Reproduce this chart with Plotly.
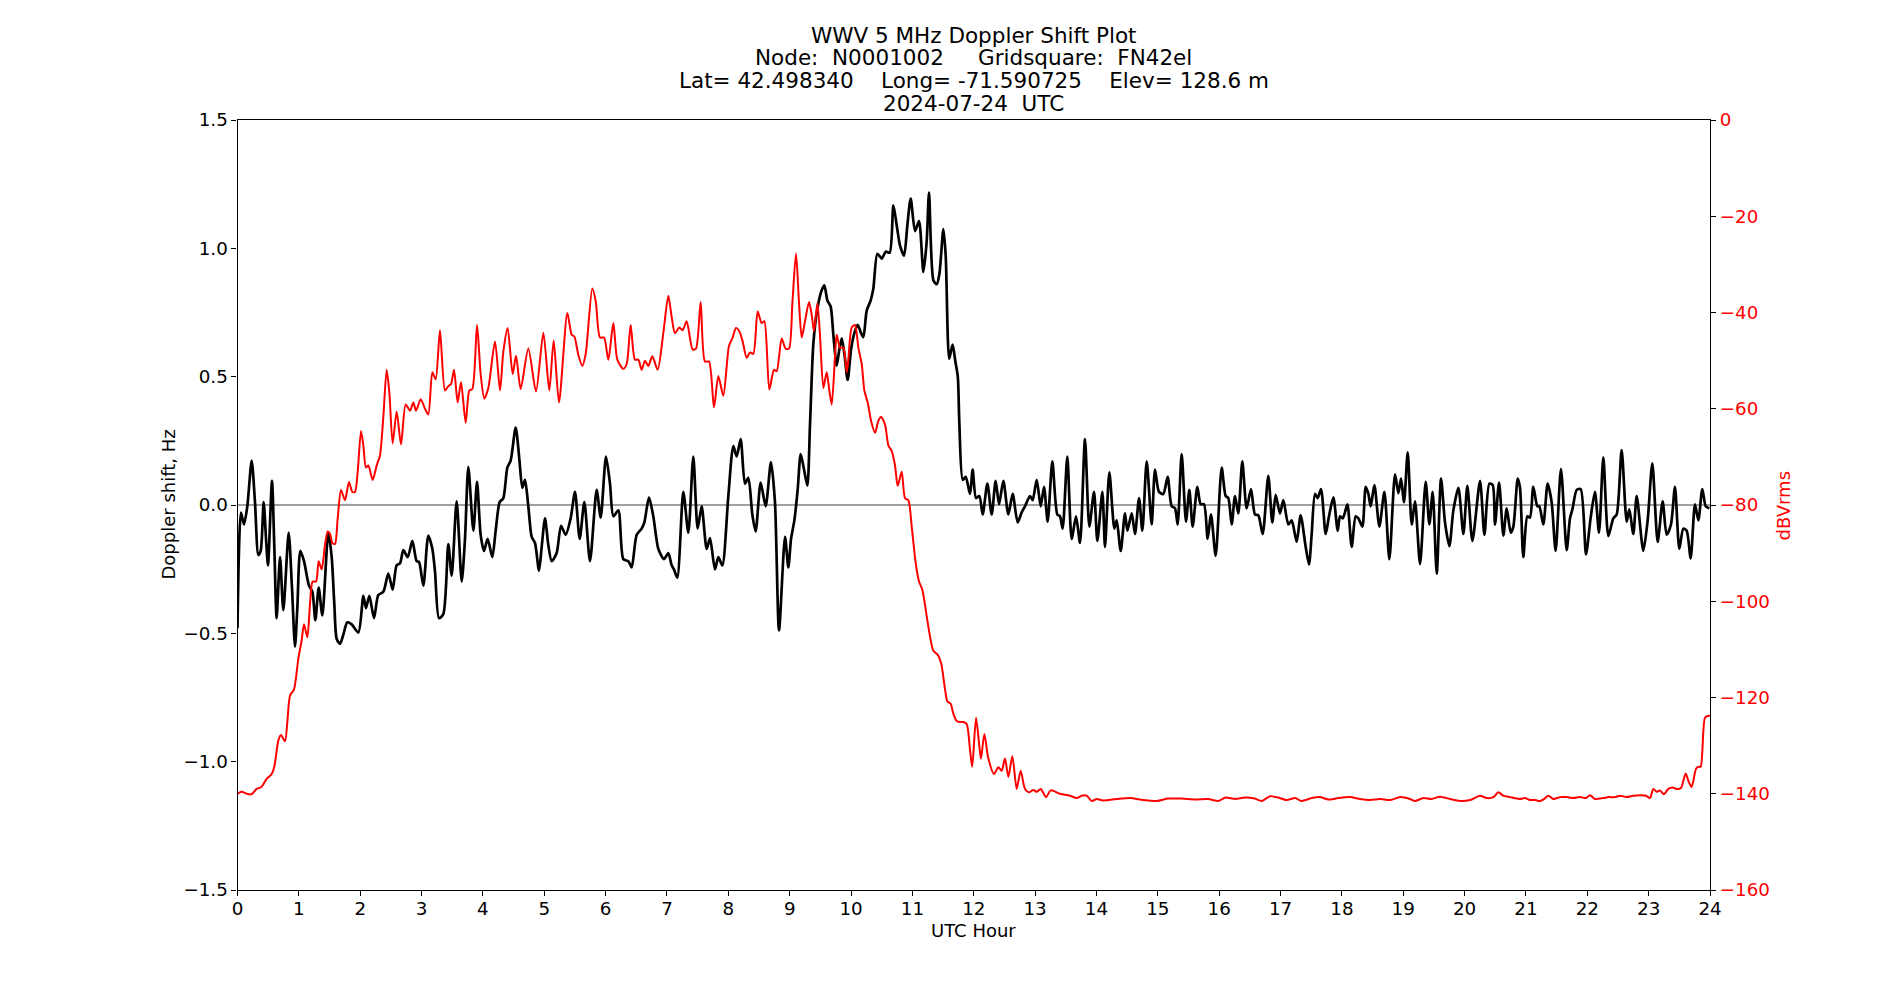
import plotly.graph_objects as go

# ---------------- data ----------------
doppler_hours = [
    0.00, 0.057, 0.106, 0.160, 0.231, 0.285, 0.340, 0.378, 0.426, 0.465, 0.497, 0.562, 0.600, 0.638, 0.693,
    0.747, 0.834, 0.888, 0.937, 0.975, 1.024, 1.084, 1.165, 1.220, 1.269, 1.323, 1.383, 1.480, 1.535, 1.578,
    1.616, 1.671, 1.725, 1.790, 1.861, 1.970, 2.051, 2.094, 2.149, 2.225, 2.295, 2.377, 2.458, 2.529, 2.594,
    2.649, 2.703, 2.774, 2.850, 2.920, 2.958, 3.029, 3.110, 3.176, 3.219, 3.284, 3.355, 3.436, 3.491, 3.572,
    3.654, 3.708, 3.762, 3.844, 3.904, 3.963, 4.018, 4.077, 4.153, 4.208, 4.273, 4.333, 4.398, 4.452, 4.534,
    4.594, 4.642, 4.686, 4.740, 4.795, 4.849, 4.914, 4.958, 5.012, 5.066, 5.121, 5.202, 5.273, 5.349, 5.430,
    5.501, 5.577, 5.653, 5.745, 5.854, 5.919, 6.006, 6.071, 6.126, 6.207, 6.288, 6.370, 6.424, 6.506, 6.587,
    6.631, 6.707, 6.777, 6.859, 6.951, 7.022, 7.076, 7.114, 7.168, 7.266, 7.348, 7.429, 7.500, 7.565, 7.647,
    7.701, 7.782, 7.837, 7.902, 8.000, 8.081, 8.136, 8.201, 8.271, 8.326, 8.391, 8.445, 8.527, 8.608, 8.695,
    8.760, 8.826, 8.924, 8.978, 9.022, 9.076, 9.130, 9.179, 9.234, 9.288, 9.331, 9.386, 9.451, 9.522, 9.565,
    9.614, 9.668, 9.712, 9.766, 9.804, 9.848, 9.891, 9.945, 10.000, 10.054, 10.108, 10.163, 10.201, 10.255,
    10.320, 10.364, 10.429, 10.500, 10.565, 10.630, 10.690, 10.744, 10.798, 10.864, 10.918, 10.972, 11.043,
    11.108, 11.179, 11.233, 11.271, 11.342, 11.396, 11.440, 11.505, 11.543, 11.600, 11.655, 11.700, 11.740,
    11.766, 11.820, 11.869, 11.939, 11.982, 12.037, 12.091, 12.145, 12.222, 12.292, 12.357, 12.412, 12.482,
    12.564, 12.634, 12.716, 12.781, 12.835, 12.917, 12.960, 13.026, 13.091, 13.145, 13.205, 13.281, 13.362,
    13.406, 13.449, 13.525, 13.596, 13.667, 13.732, 13.813, 13.884, 13.960, 14.015, 14.096, 14.139, 14.210,
    14.292, 14.330, 14.395, 14.465, 14.504, 14.574, 14.628, 14.694, 14.748, 14.819, 14.900, 14.954, 15.019,
    15.090, 15.160, 15.226, 15.280, 15.323, 15.389, 15.459, 15.514, 15.568, 15.644, 15.698, 15.753, 15.812,
    15.867, 15.943, 16.041, 16.106, 16.149, 16.204, 16.258, 16.312, 16.377, 16.448, 16.519, 16.584, 16.638,
    16.709, 16.801, 16.866, 16.921, 16.991, 17.046, 17.127, 17.182, 17.263, 17.328, 17.410, 17.464, 17.507,
    17.562, 17.605, 17.660, 17.736, 17.790, 17.861, 17.932, 17.970, 18.013, 18.041, 18.090, 18.160, 18.225,
    18.269, 18.334, 18.388, 18.432, 18.470, 18.530, 18.611, 18.693, 18.774, 18.866, 18.921, 18.964, 19.013,
    19.073, 19.138, 19.192, 19.274, 19.366, 19.426, 19.480, 19.546, 19.616, 19.681, 19.752, 19.817, 19.899,
    19.980, 20.045, 20.127, 20.252, 20.323, 20.404, 20.458, 20.496, 20.562, 20.632, 20.687, 20.752, 20.795,
    20.866, 20.903, 20.957, 21.023, 21.066, 21.120, 21.186, 21.218, 21.283, 21.354, 21.419, 21.484, 21.571,
    21.664, 21.718, 21.761, 21.827, 21.892, 21.979, 22.055, 22.125, 22.191, 22.261, 22.343, 22.424, 22.479,
    22.560, 22.642, 22.685, 22.750, 22.805, 22.913, 22.984, 23.060, 23.147, 23.228, 23.294, 23.364, 23.429,
    23.500, 23.565, 23.620, 23.685, 23.755, 23.810, 23.875, 23.930, 23.989,
]

doppler_hz = [
    -0.48, -0.03, -0.076, -0.005, 0.173, 0.011, -0.195, -0.179, 0.011, -0.132, -0.235, 0.094, -0.163, -0.441, -0.203,
    -0.410, -0.108, -0.322, -0.552, -0.402, -0.179, -0.219, -0.314, -0.338, -0.449, -0.322, -0.430, -0.108, -0.203, -0.386,
    -0.521, -0.541, -0.505, -0.457, -0.465, -0.497, -0.354, -0.402, -0.354, -0.441, -0.351, -0.338, -0.267, -0.330, -0.235,
    -0.227, -0.176, -0.203, -0.140, -0.219, -0.222, -0.314, -0.119, -0.171, -0.259, -0.441, -0.425, -0.152, -0.275, 0.014,
    -0.298, -0.132, 0.149, -0.100, 0.090, -0.116, -0.179, -0.132, -0.203, -0.100, 0.011, 0.027, 0.146, 0.173, 0.302,
    0.178, 0.067, 0.098, -0.005, -0.124, -0.148, -0.256, -0.163, -0.052, -0.156, -0.219, -0.187, -0.081, -0.116, -0.052,
    0.051, -0.132, 0.011, -0.219, 0.059, -0.049, 0.189, 0.083, -0.044, -0.021, -0.211, -0.219, -0.243, -0.116, -0.092,
    -0.068, 0.030, -0.044, -0.171, -0.211, -0.187, -0.235, -0.251, -0.283, 0.051, -0.108, 0.189, -0.092, -0.005, -0.171,
    -0.129, -0.251, -0.203, -0.235, 0.035, 0.230, 0.189, 0.257, 0.083, 0.106, -0.037, -0.103, 0.087, -0.005, 0.167,
    0.011, -0.489, -0.124, -0.243, -0.132, -0.060, 0.059, 0.198, 0.138, 0.075, 0.313, 0.630, 0.765, 0.837, 0.856,
    0.797, 0.773, 0.662, 0.543, 0.598, 0.649, 0.590, 0.487, 0.606, 0.670, 0.702, 0.670, 0.654, 0.757,
    0.797, 0.844, 0.979, 0.960, 0.987, 0.983, 1.167, 1.090, 1.011, 0.971, 1.090, 1.194, 1.067,
    1.106, 0.908, 1.027, 1.217, 0.876, 0.860, 0.900, 1.075, 0.971, 0.570, 0.625, 0.560, 0.500,
    0.313, 0.098, 0.110, 0.043, 0.138, 0.027, 0.035, -0.037, 0.083, -0.037, 0.094, 0.003, 0.094,
    -0.037, 0.043, -0.068, -0.029, -0.005, 0.035, 0.019, 0.098, -0.005, 0.071, -0.065, 0.170, -0.037,
    -0.044, -0.092, 0.189, -0.132, -0.044, -0.148, 0.257, -0.084, 0.051, -0.140, 0.051, -0.163, 0.127,
    -0.092, -0.060, -0.179, -0.033, -0.100, -0.033, -0.113, 0.027, -0.100, 0.170, -0.076, 0.138, 0.051,
    0.043, 0.110, -0.005, -0.013, -0.076, 0.198, -0.065, 0.059, -0.084, 0.071, 0.003, 0.003, -0.132,
    -0.037, -0.198, 0.146, 0.035, 0.027, -0.076, 0.035, -0.033, 0.170, -0.013, 0.062, -0.037, -0.040,
    -0.113, 0.114, -0.068, 0.040, -0.033, 0.019, -0.076, -0.060, -0.144, -0.040, -0.163, -0.232, -0.116,
    0.043, 0.027, 0.062, -0.113, -0.044, 0.030, -0.100, -0.044, -0.052, -0.037, 0.003, -0.163, -0.044,
    -0.052, -0.084, 0.071, 0.043, -0.005, 0.078, -0.084, 0.051, -0.211, 0.119, 0.046, 0.103, 0.011,
    0.205, -0.076, 0.014, -0.230, 0.090, -0.076, 0.051, -0.267, 0.103, -0.068, -0.160, -0.021, 0.067,
    -0.113, 0.075, -0.140, 0.094, -0.116, 0.083, 0.078, -0.076, 0.087, -0.119, -0.013, -0.108, -0.084,
    0.103, 0.067, -0.203, -0.044, -0.049, 0.071, -0.005, -0.005, -0.076, 0.083, 0.011, -0.179, 0.141,
    -0.176, -0.052, -0.013, 0.059, 0.062, -0.192, -0.049, 0.051, -0.108, 0.186, -0.121, -0.052, -0.037,
    0.214, -0.065, -0.017, -0.113, 0.035, -0.179, -0.060, 0.162, -0.144, 0.014, -0.116, -0.076, 0.071,
    -0.171, -0.092, -0.100, -0.208, 0.003, -0.060, 0.062, -0.005, -0.013,
]

power_hours = [
    0.00, 0.07, 0.15, 0.23, 0.31, 0.39, 0.475, 0.557, 0.600, 0.666, 0.709, 0.774, 0.812, 0.856, 0.921,
    0.991, 1.046, 1.084, 1.138, 1.182, 1.225, 1.280, 1.323, 1.372, 1.426, 1.470, 1.508, 1.546, 1.589, 1.633,
    1.687, 1.752, 1.817, 1.872, 1.915, 1.959, 2.013, 2.051, 2.094, 2.132, 2.203, 2.268, 2.322, 2.377, 2.431,
    2.475, 2.529, 2.594, 2.665, 2.741, 2.812, 2.866, 2.910, 2.986, 3.056, 3.110, 3.176, 3.230, 3.300, 3.382,
    3.436, 3.480, 3.529, 3.588, 3.643, 3.719, 3.779, 3.828, 3.904, 3.963, 4.023, 4.088, 4.197, 4.278, 4.333,
    4.403, 4.485, 4.539, 4.615, 4.740, 4.865, 4.985, 5.082, 5.153, 5.240, 5.376, 5.446, 5.490, 5.555, 5.620,
    5.675, 5.783, 5.838, 5.908, 5.974, 6.044, 6.126, 6.191, 6.288, 6.343, 6.408, 6.478, 6.533, 6.587, 6.641,
    6.696, 6.761, 6.848, 6.940, 7.022, 7.076, 7.130, 7.201, 7.255, 7.321, 7.418, 7.473, 7.549, 7.619, 7.685,
    7.766, 7.837, 7.918, 8.011, 8.065, 8.125, 8.179, 8.233, 8.299, 8.353, 8.407, 8.478, 8.543, 8.587, 8.668,
    8.744, 8.788, 8.869, 8.934, 8.989, 9.044, 9.103, 9.152, 9.196, 9.250, 9.315, 9.359, 9.397, 9.451, 9.494,
    9.549, 9.603, 9.641, 9.685, 9.739, 9.766, 9.820, 9.875, 9.929, 9.956, 10.011, 10.065, 10.119, 10.174,
    10.217, 10.271, 10.326, 10.391, 10.445, 10.489, 10.554, 10.608, 10.663, 10.717, 10.760, 10.826, 10.880,
    10.934, 10.989, 11.054, 11.108, 11.162, 11.233, 11.287, 11.342, 11.412, 11.467, 11.532, 11.570, 11.624,
    11.668, 11.722, 11.776, 11.831, 11.885, 11.940, 11.975, 12.037, 12.091, 12.118, 12.173, 12.238, 12.330,
    12.401, 12.455, 12.509, 12.564, 12.629, 12.700, 12.765, 12.835, 12.906, 12.971, 13.026, 13.091, 13.178,
    13.254, 13.406, 13.569, 13.678, 13.759, 13.841, 13.922, 14.004, 14.112, 14.330, 14.547, 14.764, 14.982,
    15.170, 15.390, 15.610, 15.820, 15.990, 16.100, 16.260, 16.420, 16.580, 16.690, 16.830, 16.960, 17.100,
    17.240, 17.340, 17.510, 17.640, 17.780, 17.940, 18.130, 18.300, 18.460, 18.620, 18.790, 18.950, 19.110,
    19.190, 19.330, 19.460, 19.600, 19.760, 19.930, 20.090, 20.250, 20.360, 20.470, 20.550, 20.630, 20.740,
    20.903, 20.985, 21.066, 21.148, 21.229, 21.294, 21.365, 21.446, 21.555, 21.664, 21.772, 21.881, 21.979,
    22.044, 22.125, 22.261, 22.343, 22.451, 22.533, 22.642, 22.750, 22.859, 22.957, 23.022, 23.076, 23.131,
    23.185, 23.250, 23.321, 23.391, 23.456, 23.527, 23.603, 23.647, 23.701, 23.772, 23.810, 23.848, 23.918,
    23.973, 24.000,
]

power_dbv = [
    -140.0, -139.6, -140.0, -140.1, -139.0, -138.6, -136.9, -135.9, -134.4, -128.9, -127.8, -129.1, -125.1, -119.6, -118.3,
    -112.0, -108.1, -104.8, -107.5, -100.5, -95.9, -95.9, -91.7, -93.4, -88.3, -85.5, -86.0, -87.9, -88.1, -82.8,
    -76.9, -79.0, -75.2, -77.3, -77.3, -73.1, -64.6, -67.6, -72.2, -71.8, -74.8, -71.8, -69.7, -61.7, -51.9,
    -56.6, -67.2, -60.6, -67.4, -59.1, -60.4, -58.7, -60.4, -58.0, -60.0, -61.2, -52.4, -53.9, -43.7, -56.2,
    -55.3, -54.9, -51.9, -58.7, -54.5, -62.9, -56.2, -55.9, -42.6, -52.8, -57.9, -55.7, -46.0, -56.2, -48.1,
    -43.2, -52.8, -49.0, -55.9, -47.5, -56.4, -44.2, -56.2, -45.8, -58.7, -40.1, -44.6, -45.0, -48.8, -51.1,
    -48.6, -35.0, -37.6, -45.2, -45.2, -49.8, -42.2, -49.8, -51.7, -50.7, -42.6, -49.8, -49.8, -51.9, -50.0,
    -51.1, -49.1, -51.9, -44.3, -36.5, -40.9, -44.3, -43.1, -43.7, -41.8, -47.7, -47.5, -37.8, -50.2, -50.2,
    -59.7, -53.2, -57.3, -46.9, -45.4, -43.2, -43.9, -46.0, -49.4, -48.3, -48.6, -39.8, -42.2, -41.8, -56.0,
    -51.9, -52.2, -45.4, -47.5, -47.5, -38.0, -27.7, -38.0, -45.2, -41.8, -37.8, -40.5, -43.9, -38.0, -44.8,
    -55.7, -52.4, -55.7, -59.1, -49.0, -44.6, -47.3, -47.3, -52.4, -49.8, -43.1, -42.6, -47.3, -50.7,
    -56.2, -58.7, -62.5, -65.0, -62.5, -61.7, -63.3, -67.6, -68.8, -71.8, -76.0, -73.1, -78.6,
    -79.0, -84.5, -92.1, -95.9, -97.6, -103.1, -107.3, -110.3, -111.1, -112.8, -118.3, -120.8, -121.3,
    -123.4, -124.9, -125.1, -125.1, -125.5, -131.0, -134.4, -124.2, -130.1, -132.7, -127.6, -132.7, -135.9,
    -134.5, -135.2, -132.7, -136.5, -132.2, -139.0, -135.2, -139.0, -139.7, -139.2, -139.6, -139.0, -140.7,
    -139.3, -140.0, -140.4, -140.9, -140.4, -140.4, -141.5, -141.1, -141.4, -141.1, -140.9, -141.3, -141.5,
    -141.0, -141.0, -141.2, -141.1, -141.5, -140.8, -141.1, -140.8, -141.0, -141.5, -140.5, -140.8, -141.3,
    -140.9, -141.5, -140.9, -140.7, -141.2, -140.9, -140.7, -141.1, -141.3, -141.1, -141.3, -140.7, -141.1,
    -141.5, -140.9, -141.1, -140.6, -141.1, -141.5, -141.3, -140.4, -140.9, -140.7, -139.7, -140.4, -140.7,
    -141.1, -140.9, -141.3, -141.3, -141.5, -141.1, -140.4, -141.1, -140.7, -140.7, -140.9, -140.7, -140.9,
    -140.3, -141.1, -140.9, -140.7, -140.7, -140.4, -140.7, -140.4, -140.3, -140.4, -140.9, -139.0, -139.6,
    -139.3, -140.1, -139.0, -138.7, -139.0, -138.8, -135.8, -137.3, -138.6, -134.8, -134.4, -134.4, -124.2,
    -123.8, -123.8,
]

x_ticks = list(range(0, 25))
title_lines = [
    "WWV 5 MHz Doppler Shift Plot",
    "Node:  N0001002     Gridsquare:  FN42el",
    "Lat= 42.498340    Long= -71.590725    Elev= 128.6 m",
    "2024-07-24  UTC",
]
x_label = "UTC Hour"
y_label = "Doppler shift, Hz"
y2_label = "dBVrms"

# ---------------- figure ----------------
FONT = "DejaVu Sans"
TICK_SIZE = 18.3
LABEL_SIZE = 18.0
TITLE_SIZE = 21.5

fig = go.Figure()

fig.add_trace(go.Scatter(
    x=doppler_hours, y=doppler_hz, mode="lines", yaxis="y",
    line=dict(color="black", width=2.7, shape="spline", smoothing=0.7),
    showlegend=False, hoverinfo="skip",
))
fig.add_trace(go.Scatter(
    x=power_hours, y=power_dbv, mode="lines", yaxis="y2",
    line=dict(color="red", width=2.0, shape="spline", smoothing=0.7),
    showlegend=False, hoverinfo="skip",
))

fig.add_hline(y=0, line=dict(color="#808080", width=1.4), layer="below")

axis_common = dict(
    showgrid=False, zeroline=False, showline=True, linecolor="black", linewidth=1.1,
    ticks="outside", ticklen=5, tickwidth=1.1, tickcolor="black", automargin=False,
)

fig.update_layout(
    template="none",
    width=1900, height=1000, autosize=False,
    margin=dict(l=0, r=0, t=0, b=0, pad=0),
    paper_bgcolor="white", plot_bgcolor="white",
    font=dict(family=FONT, size=TICK_SIZE, color="black"),
    xaxis=dict(domain=[0.125, 0.9], range=[0, 24], tickvals=x_ticks,
               tickfont=dict(family=FONT, size=TICK_SIZE, color="black"),
               ticklabelstandoff=-3,
               mirror=True, anchor="y", **axis_common),
    yaxis=dict(domain=[0.11, 0.88], range=[-1.5, 1.5], dtick=0.5, tick0=0, tickformat=".1f",
               tickfont=dict(family=FONT, size=TICK_SIZE, color="black"),
               anchor="x", **axis_common),
    yaxis2=dict(overlaying="y", side="right", range=[-160, 0], dtick=20, tick0=0,
                tickfont=dict(family=FONT, size=TICK_SIZE, color="red"),
                anchor="x", **axis_common),
)

title_y_px = [35, 57.5, 80.5, 104]
for txt, ypx in zip(title_lines, title_y_px):
    fig.add_annotation(
        text=txt.replace(" ", "\u00a0"), xref="paper", yref="paper",
        x=0.5125, y=1 - ypx / 1000, xanchor="center", yanchor="middle",
        showarrow=False, font=dict(family=FONT, size=TITLE_SIZE, color="black"),
    )

fig.add_annotation(text=x_label, xref="paper", yref="paper", x=0.5125, y=1 - 930.5 / 1000,
                   xanchor="center", yanchor="middle", showarrow=False,
                   font=dict(family=FONT, size=LABEL_SIZE, color="black"))
fig.add_annotation(text=y_label, xref="paper", yref="paper", x=167.5 / 1900, y=0.495,
                   xanchor="center", yanchor="middle", textangle=-90, showarrow=False,
                   font=dict(family=FONT, size=LABEL_SIZE, color="black"))
fig.add_annotation(text=y2_label, xref="paper", yref="paper", x=1782.5 / 1900, y=0.494,
                   xanchor="center", yanchor="middle", textangle=-90, showarrow=False,
                   font=dict(family=FONT, size=LABEL_SIZE, color="red"))

fig.write_html(
    "out.html",
    post_script="document.body.style.margin='0';document.body.style.overflow='hidden';",
)
